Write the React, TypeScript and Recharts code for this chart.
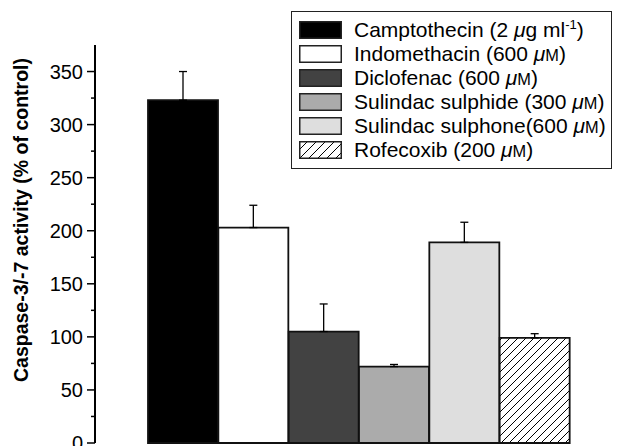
import React from "react";
import { BarChart, Bar, Cell, XAxis, YAxis, ErrorBar, Legend, Label } from "recharts";

const drugs = [
  "Camptothecin",
  "Indomethacin",
  "Diclofenac",
  "Sulindac sulphide",
  "Sulindac sulphone",
  "Rofecoxib",
];
const legendLabels = [
  "Camptothecin (2 μg ml-1)",
  "Indomethacin (600 μM)",
  "Diclofenac (600 μM)",
  "Sulindac sulphide (300 μM)",
  "Sulindac sulphone(600 μM)",
  "Rofecoxib (200 μM)",
];
const activity = [323, 203, 105, 72, 189, 99];
const sem = [27, 21, 26, 2, 19, 4];
const yTicks = [0, 25, 50, 75, 100, 125, 150, 175, 200, 225, 250, 275, 300, 325, 350];

const fills = ["#000000", "#ffffff", "#424242", "#ababab", "#dedede", "url(#hatch)"];
const FONT = "'Liberation Sans', Arial, Helvetica, sans-serif";

const data = drugs.map((name, i) => ({
  name,
  value: activity[i],
  err: [0, sem[i]],
}));

function YTick(props: any) {
  const { x, y, payload } = props;
  const major = payload.value % 50 === 0;
  return (
    <g>
      <line x1={x - (major ? 8 : 4)} x2={x} y1={y} y2={y} stroke="#000" strokeWidth={1.5} />
      {major && (
        <text x={x - 12} y={y} dy="0.36em" textAnchor="end" fontSize={20} fontFamily={FONT} fill="#000">
          {payload.value}
        </text>
      )}
    </g>
  );
}

function fmt(s: string) {
  return s.split(/(μ|M\)|-1)/).map((p, i) => {
    if (p === "μ") return <i key={i}>μ</i>;
    if (p === "M)")
      return (
        <span key={i}>
          <span style={{ fontSize: "0.78em" }}>M</span>)
        </span>
      );
    if (p === "-1")
      return (
        <span key={i} style={{ fontSize: "0.62em", verticalAlign: "0.6em", lineHeight: 0 }}>
          -1
        </span>
      );
    return <span key={i}>{p}</span>;
  });
}

function Swatch({ fill }: { fill: string }) {
  return (
    <svg width={43} height={18} style={{ display: "block", flex: "none" }}>
      <defs>
        <pattern id="hatchLeg" patternUnits="userSpaceOnUse" width={9} height={9}>
          <rect width={9} height={9} fill="#fff" />
          <path d="M-2,2 l4,-4 M0,9 l9,-9 M7,11 l4,-4" stroke="#000" strokeWidth={1} />
        </pattern>
      </defs>
      <rect
        x={0.75}
        y={0.75}
        width={41.5}
        height={16.5}
        fill={fill === "url(#hatch)" ? "url(#hatchLeg)" : fill}
        stroke="#222"
        strokeWidth={1.5}
      />
    </svg>
  );
}

function LegendBox() {
  return (
    <div
      style={{
        border: "1.5px solid #222",
        padding: "6px 6px 6px 7px",
        fontFamily: FONT,
        fontSize: 21,
        lineHeight: "24px",
        color: "#000",
        boxSizing: "border-box",
        width: 321,
        background: "#fff",
      }}
    >
      {legendLabels.map((l, i) => (
        <div key={l} style={{ display: "flex", alignItems: "center", height: 24, whiteSpace: "nowrap" }}>
          <Swatch fill={fills[i]} />
          <span style={{ marginLeft: 12 }}>{fmt(l)}</span>
        </div>
      ))}
    </div>
  );
}

export default function App() {
  return (
    <div style={{ position: "absolute", left: 0, top: 0, width: 618, height: 446, background: "#fff" }}>
      <BarChart
        width={618}
        height={446}
        data={data}
        margin={{ top: 45, right: 0, bottom: 3, left: 0 }}
        barCategoryGap={0}
        barGap={0}
      >
        <defs>
          <pattern id="hatch" patternUnits="userSpaceOnUse" width={8} height={8}>
            <rect width={8} height={8} fill="#fff" />
            <path d="M-2,2 l4,-4 M0,8 l8,-8 M6,10 l4,-4" stroke="#000" strokeWidth={1} />
          </pattern>
        </defs>
        <XAxis
          dataKey="name"
          height={0}
          tick={false}
          tickLine={false}
          axisLine={{ stroke: "#000", strokeWidth: 2 }}
          padding={{ left: 53, right: 48 }}
        />
        <YAxis
          width={95}
          domain={[0, 375]}
          ticks={yTicks}
          interval={0}
          tickSize={0}
          tickMargin={0}
          tickLine={false}
          tick={<YTick />}
          axisLine={{ stroke: "#000", strokeWidth: 2 }}
        >
          <Label
            content={(props: any) => {
              const vb = props.viewBox || { x: 0, y: 45, width: 95, height: 398 };
              const cx = vb.x + 21;
              const cy = vb.y + vb.height / 2 - 24;
              return (
                <text
                  x={cx}
                  y={cy}
                  transform={`rotate(-90 ${cx} ${cy})`}
                  textAnchor="middle"
                  dominantBaseline="central"
                  fontFamily={FONT}
                  fontWeight="bold"
                  fontSize={19.5}
                  fill="#000"
                >
                  Caspase-3/-7 activity (% of control)
                </text>
              );
            }}
          />
        </YAxis>
        <Legend
          layout="horizontal"
          verticalAlign="middle"
          align="center"
          wrapperStyle={{ top: 11, left: 291, width: 321 }}
          content={() => <LegendBox />}
        />
        <Bar dataKey="value" stroke="#111" strokeWidth={1.8} isAnimationActive={false}>
          {data.map((d, i) => (
            <Cell key={d.name} fill={fills[i]} />
          ))}
          <ErrorBar dataKey="err" direction="y" width={4} stroke="#000" strokeWidth={1.3} />
        </Bar>
      </BarChart>
    </div>
  );
}
